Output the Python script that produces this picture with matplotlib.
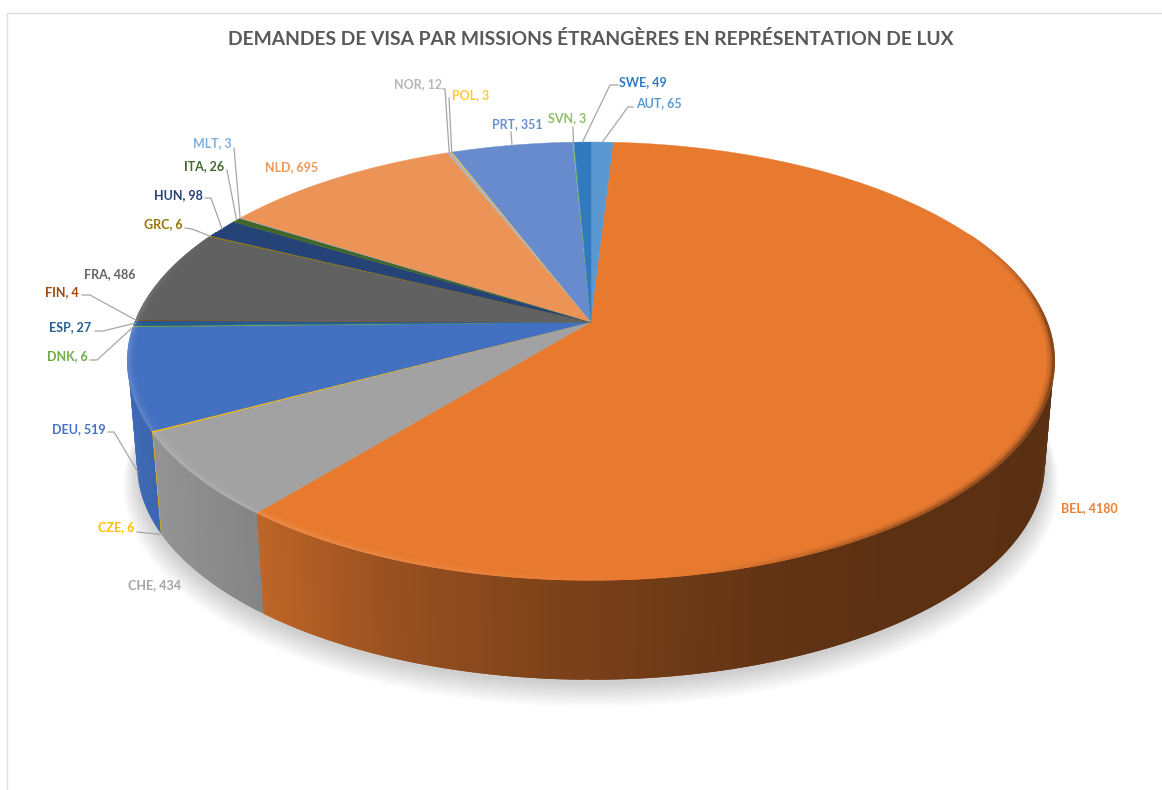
import numpy as np
import matplotlib
matplotlib.use("Agg")
import matplotlib.pyplot as plt

# ---- data ----
codes = ["AUT","BEL","CHE","CZE","DEU","DNK","ESP","FIN","FRA","GRC","HUN","ITA","MLT","NLD","NOR","POL","PRT","SVN","SWE"]
counts = [65,4180,434,6,519,6,27,4,486,6,98,26,3,695,12,3,351,3,49]
title = "DEMANDES DE VISA PAR MISSIONS ÉTRANGÈRES EN REPRÉSENTATION DE LUX"

# ---- style ----
colors = ["#5B9BD5","#ED7D31","#A5A5A5","#FFC000","#4472C4","#70AD47","#255E91","#9E480E","#636363",
          "#997300","#264478","#43682B","#7CAFDD","#F1975A","#B7B7B7","#FFCD33","#698ED0","#8CC168","#327DC2"]
label_pos = {"AUT":(636,103),"BEL":(1061,508),"CHE":(128,585),"CZE":(98,527),"DEU":(52,429),"DNK":(47,356),
             "ESP":(49,327),"FIN":(45,292),"FRA":(84,274),"GRC":(144,224),"HUN":(154,195),"ITA":(184,166),
             "MLT":(193,143),"NLD":(265,167),"NOR":(394,84),"POL":(452,95),"PRT":(492,124),"SVN":(548,118),"SWE":(619,82)}
# leader start / elbow points, ending on the slice's rim (depth fraction of the side wall)
leaders = {"AUT":([(633,107),(628,107)],0),"SWE":([(618,85),(610,85)],0),"SVN":([(573,127)],0),"PRT":([(511,132)],0),
           "POL":([(449,98)],0),"NOR":([(443,89),(445,89)],0),"MLT":([(234,148)],0),"ITA":([(227,170)],0),
           "HUN":([(205,198),(211,198)],0),"GRC":([(185,228),(192,229)],0),"FIN":([(82,295),(90,295)],0),
           "ESP":([(95,331),(103,331)],0),"DNK":([(90,360),(97,360)],0),"DEU":([(108,432),(114,432)],0.9),
           "CZE":([(137,532)],1.0)}
CX, CY = 591.0, 322.0
K, A, B = 0.178, 455.6, 212.0
S, DY = 0.98, 105.0
TOP_SHADE = 0.98

def project(t, r=1.0, depth=0.0):
    """t: clockwise angle from the top (rad); returns pixel coordinates."""
    x, y = r*np.sin(t), r*np.cos(t)
    d = 1 + K*y
    s = 1 - (1-S)*depth
    return CX + s*A*x/d, CY + DY*depth - s*B*y/d

def mix(c, f):
    rgb = np.array(matplotlib.colors.to_rgb(c))
    return tuple(np.clip(rgb*f, 0, 1)) if f <= 1 else tuple(np.clip(rgb+(1-rgb)*(f-1), 0, 1))

plt.rcParams["font.family"] = ["Lato", "DejaVu Sans"]
fig = plt.figure(figsize=(11.62, 7.90), dpi=100, facecolor="white")
ax = fig.add_axes([0, 0, 1, 1])
ax.set_xlim(0, 1162); ax.set_ylim(790, 0); ax.axis("off")

# frame
ax.plot([6.5, 6.5, 1162], [790, 12.5, 12.5], color="#DDDDDD", lw=1.0, solid_joinstyle="miter")

vals = np.array(counts, float)
edges = np.concatenate([[0], np.cumsum(vals)]) / vals.sum() * 2*np.pi

# soft shadow
tt = np.linspace(0, 2*np.pi, 361)
for g in np.linspace(0, 1, 16):
    sx, sy = project(tt, 1.0 + 0.03*(1-g), 1.0)
    ax.fill(sx, sy + 4 + 14*(1-g), color="black", alpha=0.010, lw=0, zorder=1)

# side wall: painted back to front, each quad overlapping the one behind it to avoid seams
def side_factor(x):
    return np.interp(x, [125,265,400,600,780,900,1060], [.92,.80,.64,.50,.41,.385,.38])
quads = []
for i, col in enumerate(colors):
    n = max(2, int((edges[i+1]-edges[i]) / np.radians(0.6)))
    ts = np.linspace(edges[i], edges[i+1], n+1)
    step = ts[1]-ts[0]
    small = np.radians(0.08)
    for j, (a, b) in enumerate(zip(ts[:-1], ts[1:])):
        m = (a+b)/2
        if np.cos(m) > 0.35:
            continue
        if m < np.pi:
            aa, bb = a - (step if j > 0 else small), b
        else:
            aa, bb = a, b + (step if j < n-1 else small)
            if a - np.pi < step:      # close the seam at the very front
                aa = a - step
        quads.append((np.cos(m), a, b, aa, bb, col))
for _, a, b, aa, bb, col in sorted(quads, key=lambda q: -q[0]):
    x0, y0 = project(aa, 1, 0); x1, y1 = project(bb, 1, 0)
    x2, y2 = project(bb, 1, 1); x3, y3 = project(aa, 1, 1)
    f = float(side_factor((project(a,1,0)[0]+project(b,1,0)[0])/2))
    ax.fill([x0,x1,x2,x3], [y0,y1,y2,y3], color=mix(col, f), lw=0, zorder=2)

# top face
for i, col in enumerate(colors):
    ts = np.linspace(edges[i], edges[i+1], max(3, int((edges[i+1]-edges[i])/np.radians(0.5))+2))
    px, py = project(ts)
    ax.fill(np.r_[CX, px], np.r_[CY, py], color=mix(col, TOP_SHADE), lw=0.3, zorder=3)

# bevel along the rim
def bevel(x):
    return np.interp(x, [125,300,500,720,900,1060], [1.13,1.10,1.05,0.97,0.72,0.58])
for i, col in enumerate(colors):
    n = max(2, int((edges[i+1]-edges[i]) / np.radians(0.6)))
    ts = np.linspace(edges[i], edges[i+1], n+1)
    step = ts[1]-ts[0]
    for j, (a, b) in enumerate(zip(ts[:-1], ts[1:])):
        ym = np.cos((a+b)/2)
        w = float(np.clip((0.45-ym)/0.45, 0, 1))
        if w <= 0:
            continue
        bb = b + (step if j < n-1 else 0)
        for r0, r1, wt in [(0.986,0.992,0.25),(0.992,0.996,0.55),(0.996,1.002,1.0)]:
            x0, y0 = project(a, r0); x1, y1 = project(bb, r0)
            x2, y2 = project(bb, r1); x3, y3 = project(a, r1)
            xm = (project(a, r0)[0]+project(b, r0)[0])/2
            f = 1 + (float(bevel(xm))-1)*w*wt
            ax.fill([x0,x1,x2,x3], [y0,y1,y2,y3], color=mix(mix(col, TOP_SHADE), f), lw=0, zorder=4+wt)

# leaders
mids = (edges[:-1]+edges[1:])/2
for code, (pts, depth) in leaders.items():
    i = codes.index(code)
    tx, ty = project(mids[i], 1.0, depth)
    xs = [p[0] for p in pts] + [float(tx)]
    ys = [p[1] for p in pts] + [float(ty)]
    ax.plot(xs, ys, color="#A6A6A6", lw=0.9, zorder=6)

# labels
for code, v, col in zip(codes, counts, colors):
    x, y = label_pos[code]
    ax.text(x, y, f"{code}, {v}", color=col, fontsize=9.0, fontweight="bold", ha="left", va="center", zorder=7)

ax.text(591, 39, title, color="#595959", fontsize=13.9, fontweight="bold", ha="center", va="center", zorder=7)

fig.savefig("out.png", dpi=100, facecolor="white")
